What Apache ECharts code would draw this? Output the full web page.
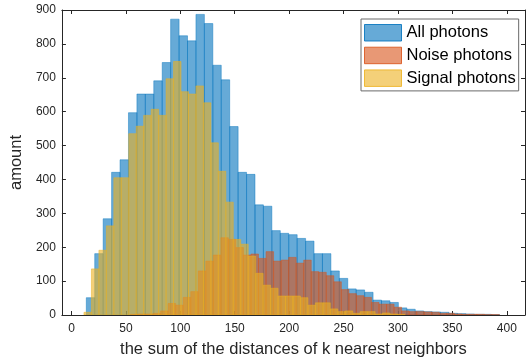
<!DOCTYPE html>
<html>
<head>
<meta charset="utf-8">
<script src="https://cdn.jsdelivr.net/npm/echarts@6/dist/echarts.min.js"></script>
<style>
  html, body { margin: 0; padding: 0; background: #fff; }
  #chart { width: 530px; height: 363px; }
</style>
</head>
<body>
<div id="chart"></div>
<script>
// Histogram bins: first edge, bin width, and counts per bin
const allStart = 13.6, allWidth = 7.75;
const allCounts = [51, 181, 284, 421, 458, 597, 652, 652, 691, 745,
  873, 824, 809, 887, 860, 737, 694, 556, 421, 415,
  325, 321, 249, 241, 237, 226, 218, 181, 181, 130,
  108, 77, 74, 67, 44, 42, 37, 21, 17, 12,
  10, 9, 8, 5, 4, 3, 2, 2, 1];

const noiseStart = 54.2, noiseWidth = 6.92;
const noiseCounts = [2, 3, 3, 5, 12, 34, 29, 52, 69, 130,
  159, 177, 228, 223, 199, 177, 180, 167, 187, 159,
  162, 170, 153, 162, 128, 126, 116, 98, 75, 63,
  57, 52, 37, 32, 32, 23, 12, 10, 10, 9,
  8, 5, 5, 3, 2, 2, 2, 1, 1];

const signalStart = 11.45, signalWidth = 6.86;
const signalCounts = [8, 136, 191, 263, 405, 405, 535, 557, 589, 607,
  589, 697, 748, 659, 652, 676, 626, 508, 424, 333,
  223, 209, 174, 123, 88, 79, 56, 56, 56, 51,
  29, 36, 36, 18, 10, 12, 5, 10, 10, 3,
  6, 3, 2];

const seriesNames = ['All photons', 'Noise photons', 'Signal photons'];
const xTicks = [0, 50, 100, 150, 200, 250, 300, 350, 400];
const xMin = -8.8, xMax = 416.7;
const yMin = 0, yMax = 900, yStep = 100;

const faces = ['rgba(0,114,189,0.6)', 'rgba(217,83,25,0.6)', 'rgba(237,177,32,0.6)'];
const edges = ['rgba(0,114,189,0.55)', 'rgba(217,83,25,0.55)', 'rgba(237,177,32,0.6)'];
const legendEdges = ['rgba(0,114,189,0.85)', 'rgba(217,83,25,0.85)', 'rgba(237,177,32,0.85)'];

function binRows(start, width, counts) {
  return counts.map((c, i) => [start + i * width, start + (i + 1) * width, c]);
}

function histSeries(name, rows, idx) {
  return {
    type: 'custom',
    name: name,
    xAxisIndex: 0,
    yAxisIndex: 0,
    clip: true,
    itemStyle: { color: faces[idx], borderColor: edges[idx] },
    encode: { x: [0, 1], y: 2 },
    data: rows,
    renderItem: function (params, api) {
      const p0 = api.coord([api.value(0), 0]);
      const p1 = api.coord([api.value(1), api.value(2)]);
      return {
        type: 'rect',
        shape: { x: p0[0], y: p1[1], width: p1[0] - p0[0], height: p0[1] - p1[1] },
        style: { fill: faces[idx], stroke: edges[idx], lineWidth: 0.8 }
      };
    }
  };
}

const FONT = 'Liberation Sans, Arial, Helvetica, sans-serif';
const axisCol = '#262626';

const chart = echarts.init(document.getElementById('chart'), null, { renderer: 'canvas' });
chart.setOption({
  animation: false,
  backgroundColor: '#fff',
  grid: { left: 57, right: 5, top: 10, bottom: 48, containLabel: false },
  legend: {
    orient: 'vertical',
    left: 361,
    top: 19,
    padding: [5, 3, 4, 3],
    itemWidth: 37,
    itemHeight: 16.5,
    itemGap: 5.2,
    icon: 'rect',
    backgroundColor: '#fff',
    borderColor: '#6a6a6a',
    borderWidth: 1,
    borderRadius: 0,
    textStyle: { fontFamily: FONT, fontSize: 16.5, color: '#000' },
    data: seriesNames.map((n, i) => ({
      name: n,
      itemStyle: { color: faces[i], borderColor: legendEdges[i], borderWidth: 1 }
    }))
  },
  xAxis: [{
    type: 'value',
    position: 'bottom',
    min: xMin, max: xMax,
    name: 'the sum of the distances of k nearest neighbors',
    nameLocation: 'middle',
    nameGap: 26,
    nameTextStyle: { fontFamily: FONT, fontSize: 16.5, color: axisCol },
    axisLine: { show: true, onZero: false, lineStyle: { color: axisCol, width: 1 } },
    axisTick: { show: true, inside: true, length: 4, customValues: xTicks, lineStyle: { color: axisCol } },
    axisLabel: { show: true, customValues: xTicks, margin: 8, fontFamily: FONT, fontSize: 12, color: axisCol },
    splitLine: { show: false }
  }, {
    type: 'value',
    position: 'top',
    min: xMin, max: xMax,
    axisLine: { show: true, onZero: false, lineStyle: { color: axisCol, width: 1 } },
    axisTick: { show: true, inside: true, length: 4, customValues: xTicks, lineStyle: { color: axisCol } },
    axisLabel: { show: false },
    splitLine: { show: false }
  }],
  yAxis: [{
    type: 'value',
    position: 'left',
    min: yMin, max: yMax, interval: yStep,
    name: 'amount',
    nameLocation: 'middle',
    nameGap: 22,
    nameTextStyle: { fontFamily: FONT, fontSize: 16.5, color: axisCol },
    axisLine: { show: true, onZero: false, lineStyle: { color: axisCol, width: 1 } },
    axisTick: { show: true, inside: true, length: 4, lineStyle: { color: axisCol } },
    axisLabel: { show: true, margin: 6, fontFamily: FONT, fontSize: 12, color: axisCol },
    splitLine: { show: false }
  }, {
    type: 'value',
    position: 'right',
    min: yMin, max: yMax, interval: yStep,
    axisLine: { show: true, onZero: false, lineStyle: { color: axisCol, width: 1 } },
    axisTick: { show: true, inside: true, length: 4, lineStyle: { color: axisCol } },
    axisLabel: { show: false },
    splitLine: { show: false }
  }],
  series: [
    histSeries(seriesNames[0], binRows(allStart, allWidth, allCounts), 0),
    histSeries(seriesNames[1], binRows(noiseStart, noiseWidth, noiseCounts), 1),
    histSeries(seriesNames[2], binRows(signalStart, signalWidth, signalCounts), 2)
  ]
});
</script>
</body>
</html>
